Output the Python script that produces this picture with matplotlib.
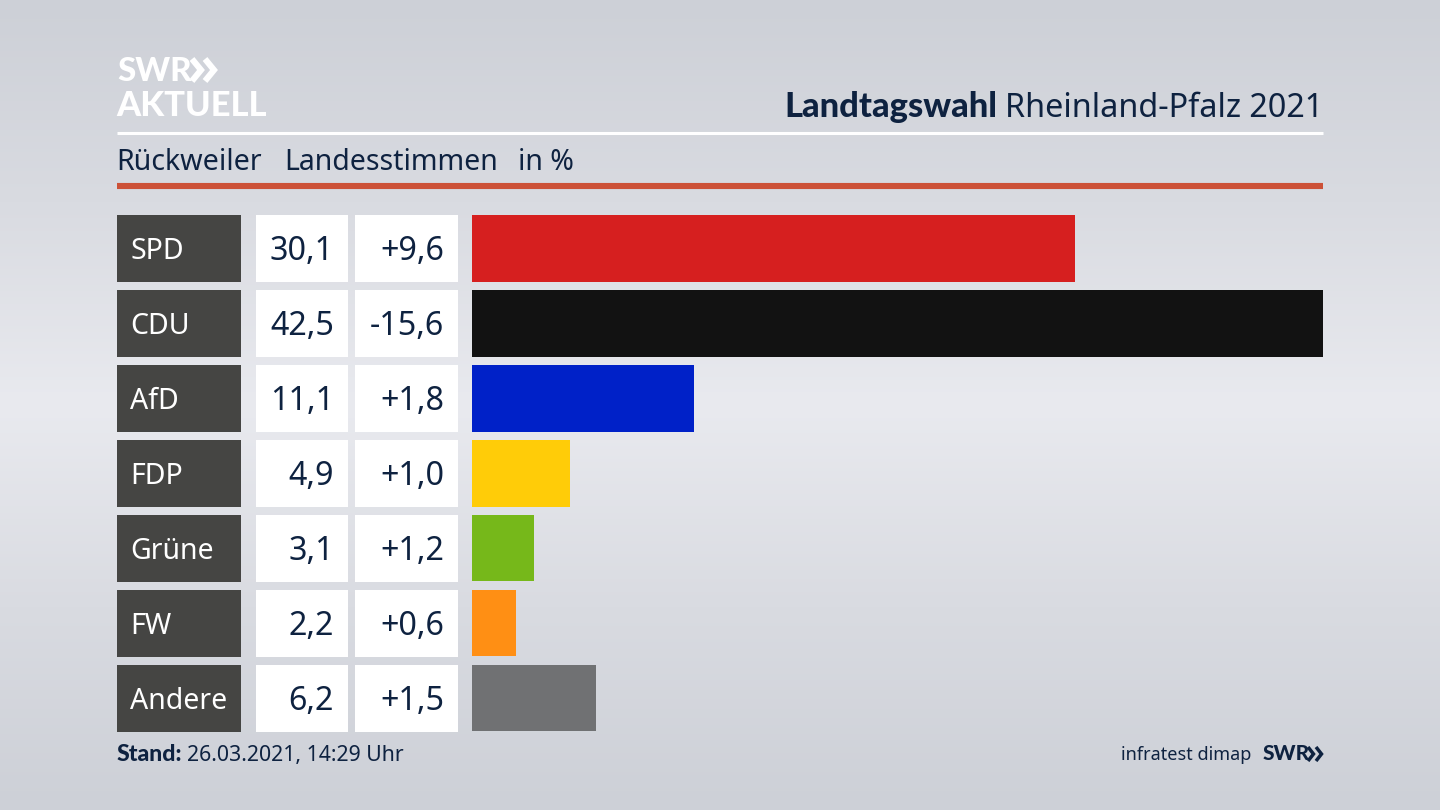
import numpy as np
import matplotlib
matplotlib.use("Agg")
import matplotlib.pyplot as plt
from matplotlib.colors import LinearSegmentedColormap

parties = ["SPD", "CDU", "AfD", "FDP", "Grüne", "FW", "Andere"]
values = [30.1, 42.5, 11.1, 4.9, 3.1, 2.2, 6.2]
value_labels = ["30,1", "42,5", "11,1", "4,9", "3,1", "2,2", "6,2"]
diff_labels = ["+9,6", "-15,6", "+1,8", "+1,0", "+1,2", "+0,6", "+1,5"]
bar_colors = ["#d61f1f", "#121212", "#0021c8", "#ffcc08", "#76b81a", "#ff8f14", "#707173"]

NAVY = "#0e2240"
plt.rcParams["font.family"] = ["Noto Sans", "DejaVu Sans"]
BOLD = ["Lato", "DejaVu Sans"]

fig = plt.figure(figsize=(14.4, 8.1), dpi=100)

# pixel axes for background, header and table cells
bg = fig.add_axes([0, 0, 1, 1])
bg.set_xlim(0, 1440)
bg.set_ylim(810, 0)
bg.axis("off")
cmap = LinearSegmentedColormap.from_list("bg", ["#cdd0d7", "#d9dbe1", "#e9eaef", "#d9dbe1", "#cdd0d7"])
bg.imshow(np.linspace(0, 1, 256).reshape(-1, 1), cmap=cmap, aspect="auto", extent=(0, 1440, 810, 0))


def chevrons(x, top, bottom, w, gap, color, lw):
    mid = (top + bottom) / 2
    for x0 in (x, x + gap):
        bg.plot([x0, x0 + w, x0], [top, mid, bottom], color=color, lw=lw,
                solid_joinstyle="miter", solid_capstyle="butt")


# logo
bg.text(117, 81, "SWR", fontsize=23.8, family=BOLD, fontweight="black", color="white", va="baseline")
chevrons(192, 59, 81, 9, 13, "white", 4.4)
bg.text(116, 116, "AKTUELL", fontsize=24.8, family=BOLD, fontweight="black", color="white", va="baseline")

# title
bg.text(997, 117, "Landtagswahl", fontsize=24.8, family=BOLD, fontweight="black", color=NAVY, ha="right", va="baseline")
bg.text(1323.5, 117, "Rheinland-Pfalz 2021", fontsize=23.3, color=NAVY, ha="right", va="baseline")
bg.plot([117, 1323], [133, 133], color="white", lw=2.2, solid_capstyle="butt")

# subtitle
bg.text(116.5, 170, "Rückweiler", fontsize=20.6, color=NAVY, va="baseline")
bg.text(284, 170, "Landesstimmen", fontsize=20.5, color=NAVY, va="baseline")
bg.text(518.5, 170, "in %", fontsize=20.5, color=NAVY, va="baseline")
bg.plot([117, 1323], [186, 186], color="#cc5137", lw=4.4, solid_capstyle="butt")

# table cells
for i, party in enumerate(parties):
    top = 215 + i * 74.97
    mid = top + 33.2
    bg.fill_between([117, 241], top, top + 66.8, color="#454543", lw=0)
    bg.fill_between([256, 348], top, top + 66.8, color="white", lw=0)
    bg.fill_between([355, 458], top, top + 66.8, color="white", lw=0)
    bg.text(130.5, mid + 10.5, party, fontsize=20.5, color="white", va="baseline")
    bg.text(334, mid + 11.5, value_labels[i], fontsize=23.2, color=NAVY, ha="right", va="baseline")
    bg.text(444, mid + 11.5, diff_labels[i], fontsize=23.2, color=NAVY, ha="right", va="baseline")

# footer
bg.text(117, 761, "Stand:", fontsize=16.6, family=BOLD, fontweight="black", color=NAVY, va="baseline")
bg.text(187, 761, "26.03.2021, 14:29 Uhr", fontsize=15.3, color=NAVY, va="baseline")
bg.text(1251, 760, "infratest dimap", fontsize=13, color=NAVY, ha="right", va="baseline")
bg.text(1263, 760, "SWR", fontsize=15, family=BOLD, fontweight="black", color=NAVY, va="baseline")
chevrons(1308, 747, 761, 5.5, 8, NAVY, 2.5)

# bars
ax = fig.add_axes([472 / 1440, 1 - 731 / 810, 851 / 1440, 516 / 810])
ax.patch.set_alpha(0)
ax.barh(range(len(parties)), values, height=0.89, color=bar_colors)
ax.set_xlim(0, 42.5)
ax.set_ylim(6.44, -0.445)
ax.axis("off")

fig.savefig("out.png", dpi=100)
